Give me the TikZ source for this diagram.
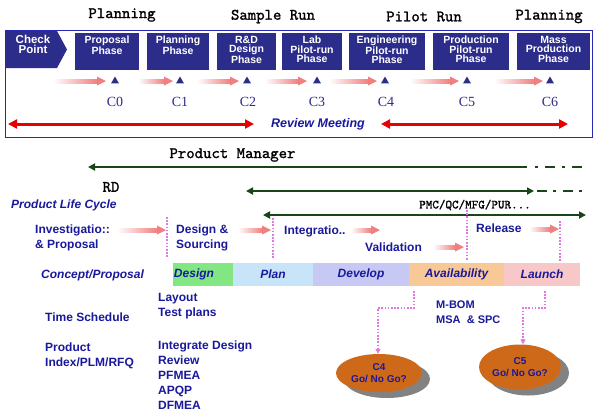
\documentclass[tikz,border=0pt]{standalone}
\usepackage{fontspec}
\setmainfont{Liberation Serif}
\setsansfont{Liberation Sans}
\newfontfamily\hmono{lmmono10-regular.otf}[FakeBold=1.3]
\usetikzlibrary{arrows.meta,shapes.geometric,shadows}
\definecolor{navy}{RGB}{44,44,138}
\definecolor{tblue}{RGB}{25,25,155}
\definecolor{frameblue}{RGB}{40,40,180}
\definecolor{rred}{RGB}{230,0,0}
\definecolor{dgreen}{RGB}{25,70,25}
\definecolor{apink}{RGB}{240,128,128}
\definecolor{dotviolet}{RGB}{225,120,225}
\definecolor{cdesign}{RGB}{130,230,130}
\definecolor{cplan}{RGB}{200,228,248}
\definecolor{cdevelop}{RGB}{200,200,245}
\definecolor{cavail}{RGB}{248,200,150}
\definecolor{claunch}{RGB}{248,200,200}
\definecolor{gorange}{RGB}{205,105,25}
\definecolor{shgray}{RGB}{130,130,130}
\newcommand\pinkarr[3]{%
  \shade[left color=white,right color=apink] (#1,#3-2) rectangle (#2-9,#3+2);
  \fill[apink] (#2-9,#3-4.5) -- (#2,#3) -- (#2-9,#3+4.5) -- cycle;}
\tikzset{
  phasebox/.style={fill=navy, draw=none, minimum height=37pt, inner sep=0},
  phasetext/.style={text=white, font=\sffamily\bfseries\fontsize{10.5}{9.5}\selectfont, align=center, anchor=north, inner sep=0},
  tri/.style={regular polygon, regular polygon sides=3, fill=navy, inner sep=0, minimum size=9pt},
  clabel/.style={text=navy, font=\rmfamily\fontsize{14}{14}\selectfont, inner sep=0},
  heading/.style={font=\hmono\fontsize{16}{16}\selectfont, inner sep=0},
  lbl/.style={font=\sffamily\bfseries\fontsize{12}{15}\selectfont, text=tblue, align=left, anchor=west, inner sep=0},
  ilbl/.style={font=\sffamily\bfseries\itshape\fontsize{12}{15}\selectfont, text=tblue, inner sep=0},
  redarrow/.style={draw=rred, line width=3pt, {Triangle[length=9pt,width=9pt]}-{Triangle[length=9pt,width=9pt]}},
  garrow/.style={draw=dgreen, line width=2.2pt},
  dotline/.style={draw=dotviolet, line width=2pt, dash pattern=on 1.6pt off 1.6pt},
  bar/.style={minimum height=23pt, inner sep=0, font=\sffamily\bfseries\itshape\fontsize{12}{12}\selectfont, text=tblue},
  gonode/.style={ellipse, fill=gorange, inner sep=0, text=tblue, font=\sffamily\bfseries\fontsize{10}{12}\selectfont, align=center,
     drop shadow={shadow xshift=8pt, shadow yshift=-6pt, fill=shgray, opacity=1}}
}
\begin{document}
\begin{tikzpicture}[x=1pt,y=-1pt]
\useasboundingbox[fill=white] (0,0) rectangle (596,416);
% headings
\node[heading] (h1) at (122,15) {Planning};
\node[heading] (h2) at (273,16.5) {Sample Run};
\node[heading] (h3) at (424,16.5) {Pilot Run};
\node[heading] (h4) at (549,16.5) {Planning};
% frame
\draw[frameblue, line width=1pt] (5,30) rectangle (592,137);
% check point
\fill[navy] (5,31) -- (57,31) -- (67,49.5) -- (57,68) -- (5,68) -- cycle;
\node[phasetext, font=\sffamily\bfseries\fontsize{11.5}{10}\selectfont] (cp) at (33,35) {Check\\Point};
% phase boxes
\node[phasebox, minimum width=64pt] (p0) at (107,51.5) {};
\node[phasebox, minimum width=62pt] (p1) at (178,51.5) {};
\node[phasebox, minimum width=59pt] (p2) at (246.5,51.5) {};
\node[phasebox, minimum width=60pt] (p3) at (312,51.5) {};
\node[phasebox, minimum width=76pt] (p4) at (387,51.5) {};
\node[phasebox, minimum width=76pt] (p5) at (471,51.5) {};
\node[phasebox, minimum width=73pt] (p6) at (553.5,51.5) {};
\node[phasetext] (pt0) at ([yshift=-3pt]p0.north) {Proposal\\Phase};
\node[phasetext] (pt1) at ([yshift=-3pt]p1.north) {Planning\\Phase};
\node[phasetext] (pt2) at ([yshift=-3pt]p2.north) {R\&D\\Design\\Phase};
\node[phasetext] (pt3) at ([yshift=-3pt]p3.north) {Lab\\Pilot-run\\Phase};
\node[phasetext] (pt4) at ([yshift=-3pt]p4.north) {Engineering\\Pilot-run\\Phase};
\node[phasetext] (pt5) at ([yshift=-3pt]p5.north) {Production\\Pilot-run\\Phase};
\node[phasetext] (pt6) at ([yshift=-3pt]p6.north) {Mass\\Production\\Phase};
% triangles
\node[tri] (t0) at (115,81) {};
\node[tri] (t1) at (180,81) {};
\node[tri] (t2) at (247,81) {};
\node[tri] (t3) at (317,81) {};
\node[tri] (t4) at (385,81) {};
\node[tri] (t5) at (467,81) {};
\node[tri] (t6) at (550,81) {};
\pinkarr{53}{106}{81}
\pinkarr{138}{173}{81}
\pinkarr{197}{239}{81}
\pinkarr{265}{307}{81}
\pinkarr{329}{377}{81}
\pinkarr{410}{459}{81}
\pinkarr{494}{543}{81}
% C labels
\node[clabel] (c0) at (115,102) {C0};
\node[clabel] (c1) at (180,102) {C1};
\node[clabel] (c2) at (248,102) {C2};
\node[clabel] (c3) at (317,102) {C3};
\node[clabel] (c4) at (386,102) {C4};
\node[clabel] (c5) at (467,102) {C5};
\node[clabel] (c6) at (550,102) {C6};
% review meeting
\coordinate (rl1) at (8,124);
\coordinate (rl2) at (254,124);
\coordinate (rr1) at (381,124);
\coordinate (rr2) at (568,124);
\draw[redarrow] (rl1) -- (rl2);
\draw[redarrow] (rr1) -- (rr2);
\node[ilbl, font=\sffamily\bfseries\itshape\fontsize{12.5}{15}\selectfont] (rm) at (318,124) {Review Meeting};
% roles
\node[heading] (pm) at (232.5,155) {Product Manager};
\coordinate (g1a) at (88,167);
\coordinate (g1b) at (527,167);
\coordinate (g1c) at (535,167);
\coordinate (g1d) at (583,167);
\draw[garrow, {Triangle[length=7pt,width=7pt]}-] (g1a) -- (g1b);
\draw[garrow, dash pattern=on 3pt off 7pt on 10pt off 7pt] (g1c) -- (g1d);
\node[heading] (rd) at (111,187) {RD};
\coordinate (g2a) at (246,191);
\coordinate (g2b) at (534,191);
\coordinate (g2c) at (537,191);
\coordinate (g2d) at (586,191);
\draw[garrow, {Triangle[length=7pt,width=7pt]}-{Triangle[length=7pt,width=7pt]}] (g2a) -- (g2b);
\draw[garrow, dash pattern=on 10pt off 6pt on 3pt off 7pt] (g2c) -- (g2d);
\node[heading, font=\hmono\fontsize{12.5}{12.5}\selectfont] (pmc) at (475,205) {PMC/QC/MFG/PUR...};
\coordinate (g3a) at (263,215);
\coordinate (g3b) at (586,215);
\draw[garrow, {Triangle[length=7pt,width=7pt]}-{Triangle[length=7pt,width=7pt]}] (g3a) -- (g3b);
% life cycle
\node[ilbl, anchor=west] (plc) at (11,205) {Product Life Cycle};
\node[lbl] (inv) at (35,238) {Investigatio::\\\& Proposal};
\node[lbl, font=\sffamily\bfseries\fontsize{12}{15.5}\selectfont] (des) at (176,238) {Design \&\\Sourcing};
\node[lbl] (integ) at (284,231) {Integratio..};
\node[lbl] (val) at (365,247) {Validation};
\node[lbl] (rel) at (476,228) {Release};
\pinkarr{117}{166}{230}
\pinkarr{238}{271}{230}
\pinkarr{351}{380}{230}
\pinkarr{433}{464}{247}
\pinkarr{529}{559}{229}
\coordinate (v1a) at (167,217);
\coordinate (v1b) at (167,258);
\coordinate (v2a) at (273,218);
\coordinate (v2b) at (273,258);
\coordinate (v3a) at (467,210);
\coordinate (v3b) at (467,261);
\coordinate (v4a) at (560,221);
\coordinate (v4b) at (560,261);
\draw[dotline] (v1a) -- (v1b);
\draw[dotline] (v2a) -- (v2b);
\draw[dotline] (v3a) -- (v3b);
\draw[dotline] (v4a) -- (v4b);
% bars
\node[ilbl, anchor=west] (cpp) at (41,275) {Concept/Proposal};
\node[bar, fill=cdesign, minimum width=60pt] (bdes) at (203,274.5) {\hspace*{-18pt}Design};
\node[bar, fill=cplan, minimum width=80pt] (bplan) at (273,274.5) {Plan};
\node[bar, fill=cdevelop, minimum width=96pt] (bdev) at (361,274.5) {Develop};
\node[bar, fill=cavail, minimum width=95pt] (bav) at (456.5,274.5) {Availability};
\node[bar, fill=claunch, minimum width=76pt] (bla) at (542,274.5) {Launch};
% lower texts
\node[lbl] (lay) at (158,306.5) {Layout\\Test plans};
\node[lbl] (ts) at (45,317) {Time Schedule};
\node[lbl] (pidx) at (45,355.5) {Product\\Index/PLM/RFQ};
\node[lbl] (idr) at (158,375.5) {Integrate Design\\Review\\PFMEA\\APQP\\DFMEA};
\node[lbl, font=\sffamily\bfseries\fontsize{11}{15}\selectfont] (mbom) at (436,312.5) {M-BOM\\MSA\ \ \& SPC};
% go / no go
\node[gonode, minimum width=86pt, minimum height=38pt] (go4) at (379,373) {C4\\Go/ No Go?};
\node[gonode, minimum width=82pt, minimum height=45pt] (go5) at (520,367) {C5\\Go/ No Go?};
\coordinate (d4a) at (414,291);
\coordinate (d4b) at (414,308);
\coordinate (d4c) at (378,308);
\coordinate (d5a) at (545,291);
\coordinate (d5b) at (545,308);
\coordinate (d5c) at (523,308);
\draw[dotline, -{Triangle[length=5pt,width=5pt,fill=dotviolet]}] (d4a) -- (d4b) -- (d4c) -- (d4c |- go4.north);
\draw[dotline, -{Triangle[length=5pt,width=5pt,fill=dotviolet]}] (d5a) -- (d5b) -- (d5c) -- (d5c |- go5.north);
\end{tikzpicture}
\end{document}
